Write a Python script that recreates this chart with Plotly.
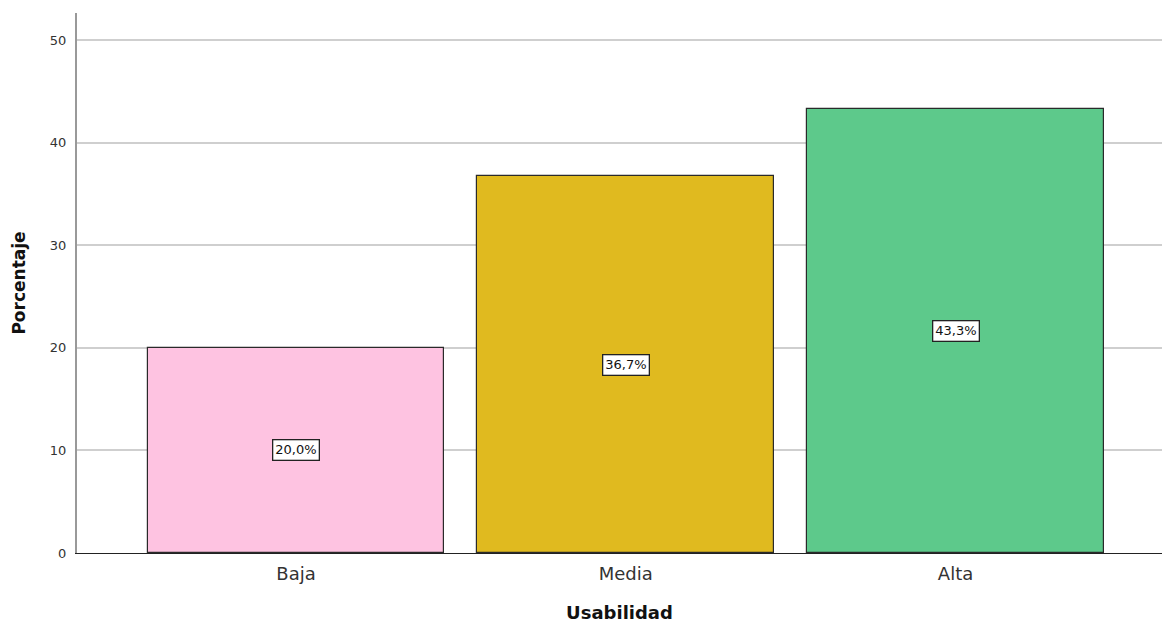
import plotly.graph_objects as go

categories = ["Baja", "Media", "Alta"]
values = [20.0, 36.7, 43.3]
labels = ["20,0%", "36,7%", "43,3%"]
colors = ["#FEC3E1", "#E0BA1F", "#5DC98B"]

FONT = "DejaVu Sans, Verdana, sans-serif"

fig = go.Figure()
fig.add_trace(go.Bar(
    x=list(range(len(categories))), y=values, width=0.9,
    marker=dict(color=colors, line=dict(color="#2a2a2a", width=1.2)),
    hoverinfo="skip", showlegend=False,
))
for i, (v, t) in enumerate(zip(values, labels)):
    fig.add_annotation(x=i, y=v / 2, text=t, showarrow=False,
                       font=dict(family=FONT, size=13, color="#111111"),
                       bgcolor="white", bordercolor="#222222", borderwidth=1.3, borderpad=2)

fig.update_layout(
    width=1162, height=623,
    margin=dict(l=77, r=0, t=13, b=70),
    plot_bgcolor="white", paper_bgcolor="white",
    font=dict(family=FONT, color="#222222"),
    bargap=0,
)
fig.update_xaxes(
    range=[-0.664, 2.626], tickmode="array", tickvals=list(range(len(categories))),
    ticktext=categories, tickfont=dict(size=18, color="#333333"), ticklabelstandoff=4,
    showgrid=False, zeroline=False, showline=True, linecolor="#222222", linewidth=1,
    ticks="", title=dict(text="<b>Usabilidad</b>", font=dict(size=18, color="#111111"), standoff=26),
)
fig.update_yaxes(
    range=[0, 52.63], tickvals=[0, 10, 20, 30, 40, 50],
    tickfont=dict(size=13, color="#333333"),
    showgrid=True, gridcolor="#CFCFCF", gridwidth=1.5, zeroline=False,
    showline=True, linecolor="#999999", linewidth=2, ticks="", ticklabelstandoff=6,
    title=dict(text="<b>Porcentaje</b>", font=dict(size=17, color="#111111"), standoff=20),
)
fig.write_html("out.html", config={"displayModeBar": False},
               post_script="document.body.style.margin='0';document.body.style.overflow='hidden';")
